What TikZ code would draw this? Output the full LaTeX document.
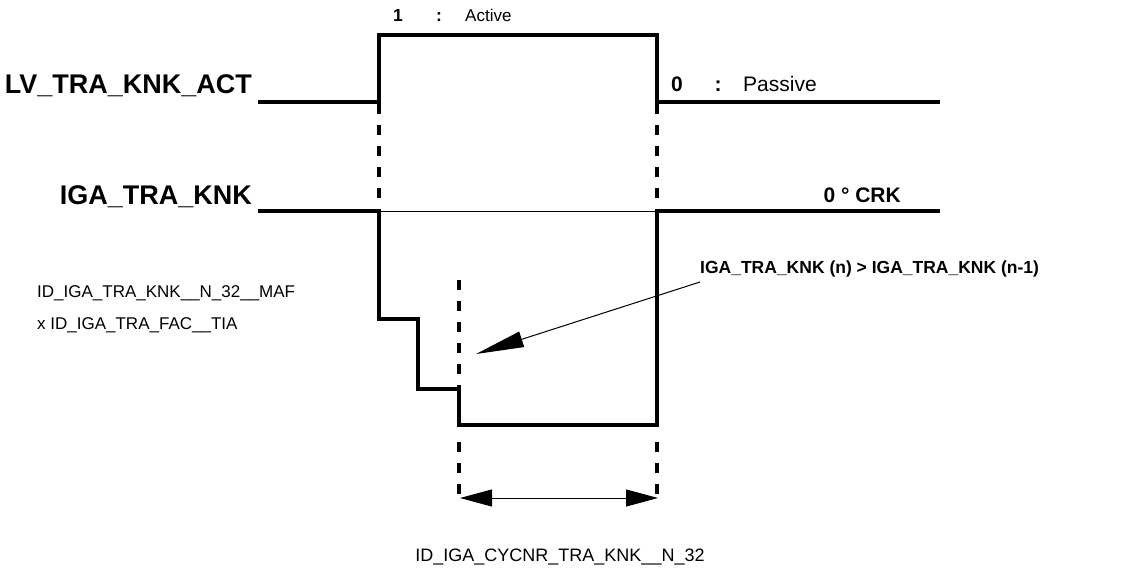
\documentclass[tikz,border=0pt]{standalone}
\usepackage{fontspec}
\setmainfont{Liberation Sans}
\usetikzlibrary{arrows.meta}
\begin{document}
\begin{tikzpicture}[x=1pt,y=-1pt,
  sig/.style={line width=4pt,line join=miter},
  dsh/.style={line width=4pt,dash pattern=on 10pt off 11pt},
  thin/.style={line width=1pt},
  big/.style={font=\fontsize{27}{32}\selectfont\bfseries,inner sep=0pt},
  sml/.style={font=\fontsize{17}{21}\selectfont,inner sep=0pt},
  smb/.style={font=\fontsize{17.5}{21}\selectfont\bfseries,inner sep=0pt},
  mid/.style={font=\fontsize{21}{25}\selectfont,inner sep=0pt},
  midb/.style={font=\fontsize{21}{25}\selectfont\bfseries,inner sep=0pt}]
\useasboundingbox (0,0) rectangle (1123,567);
% signal LV_TRA_KNK_ACT
\draw[sig] (258,102) -- (379,102) -- (379,35) -- (657,35) -- (657,102) -- (940,102);
% signal IGA_TRA_KNK
\draw[sig] (258,211) -- (379,211) -- (379,319) -- (418,319) -- (418,389) -- (459,389) -- (459,425) -- (657,425) -- (657,211) -- (940,211);
\draw[thin] (379,211) -- (657,211);
% dashed verticals
\draw[dsh] (379,104) -- (379,209);
\draw[dsh] (657,104) -- (657,209);
\draw[dsh] (459,280) -- (459,388);
\draw[dsh] (459,442) -- (459,496);
\draw[dsh] (657,442) -- (657,496);
% labels
\node[big,anchor=base east] (lv) at (252,94) {LV\_TRA\_KNK\_ACT};
\node[big,anchor=base east] (iga) at (252,204) {IGA\_TRA\_KNK};
\node[smb,anchor=base west] (one) at (393,22) {1};
\node[smb,anchor=base] (c1) at (439,22) {:};
\node[sml,anchor=base west] (act) at (465,22) {Active};
\node[midb,anchor=base west] (zero) at (671,92) {0};
\node[midb,anchor=base] (c2) at (718,92) {:};
\node[mid,anchor=base west] (pas) at (743,92) {Passive};
\node[midb,anchor=base east] (crk) at (901,202) {0 ° CRK};
\node[smb,anchor=base west] (cond) at (700,273) {IGA\_TRA\_KNK (n) > IGA\_TRA\_KNK (n-1)};
\node[sml,anchor=base west] (maf) at (37,297) {ID\_IGA\_TRA\_KNK\_\_N\_32\_\_MAF};
\node[sml,anchor=base west] (tia) at (37,329) {x ID\_IGA\_TRA\_FAC\_\_TIA};
\node[sml,anchor=base,font=\fontsize{18}{22}\selectfont] (cyc) at (560,561) {ID\_IGA\_CYCNR\_TRA\_KNK\_\_N\_32};
% arrows
\coordinate (as) at (700,282);
\coordinate (ae) at (476,354);
\draw[thin,-{Triangle[length=48pt,width=16pt]}] (as) -- (ae);
\coordinate (bl) at (460,498);
\coordinate (br) at (658,498);
\draw[thin,{Triangle[length=32pt,width=17pt]}-{Triangle[length=32pt,width=17pt]}] (bl) -- (br);
\end{tikzpicture}
\end{document}
